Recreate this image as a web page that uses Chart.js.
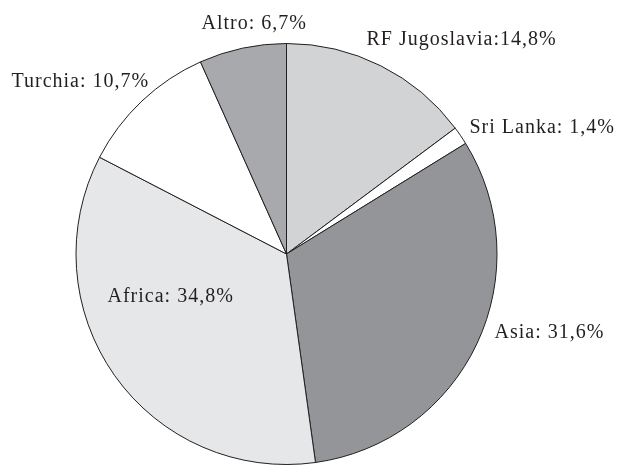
<!DOCTYPE html>
<html>
<head>
<meta charset="utf-8">
<script src="https://cdn.jsdelivr.net/npm/chart.js@4"></script>
<style>
  html, body { margin: 0; padding: 0; background: #fff; }
  #wrap { width: 621px; height: 465px; }
  #probe { position: absolute; left: -999px; top: 0; font: 20px "Liberation Serif"; }
</style>
</head>
<body>
<div id="wrap"><canvas id="pie" width="621" height="465"></canvas></div>
<span id="probe">Altro 0123456789%</span>
<script>
// data, clockwise from the top
const labels = ['RF Jugoslavia', 'Sri Lanka', 'Asia', 'Africa', 'Turchia', 'Altro']
const values = [14.8, 1.4, 31.6, 34.8, 10.7, 6.7]
const labelTexts = ['RF Jugoslavia:14,8%', 'Sri Lanka: 1,4%', 'Asia: 31,6%', 'Africa: 34,8%', 'Turchia: 10,7%', 'Altro: 6,7%']
const sliceColors = ['#d1d3d4', '#ffffff', '#939598', '#e6e7e8', '#ffffff', '#a7a9ac']

// where each label sits, relative to the pie centre (left edge, baseline)
const labelOffsets = [[80, -209], [183, -121], [208, 84], [-179, 48], [-275, -167], [-85, -225]]

const sliceLabels = {
  id: 'sliceLabels',
  afterDraw(chart) {
    let ctx = chart.ctx
    let arc = chart.getDatasetMeta(0).data[0]
    ctx.save()
    ctx.font = '20px "Liberation Serif", serif'
    ctx.letterSpacing = '1px'
    ctx.fillStyle = '#231f20'
    ctx.textAlign = 'left'
    ctx.textBaseline = 'alphabetic'
    labelTexts.forEach((t, i) => {
      ctx.fillText(t, arc.x + labelOffsets[i][0], arc.y + labelOffsets[i][1])
    })
    ctx.restore()
  }
}

function drawPie() {
  new Chart(document.getElementById('pie').getContext('2d'), {
    type: 'pie',
    data: {
      labels: labels,
      datasets: [{
        data: values,
        backgroundColor: sliceColors,
        borderColor: '#231f20',
        borderWidth: 1
      }]
    },
    options: {
      responsive: false,
      animation: false,
      layout: { padding: { top: 43, bottom: 0, left: 0, right: 48 } },
      plugins: {
        legend: { display: false },
        tooltip: { enabled: false }
      }
    },
    plugins: [sliceLabels]
  })
}

document.fonts.load('20px "Liberation Serif"').then(drawPie, drawPie)
</script>
</body>
</html>
